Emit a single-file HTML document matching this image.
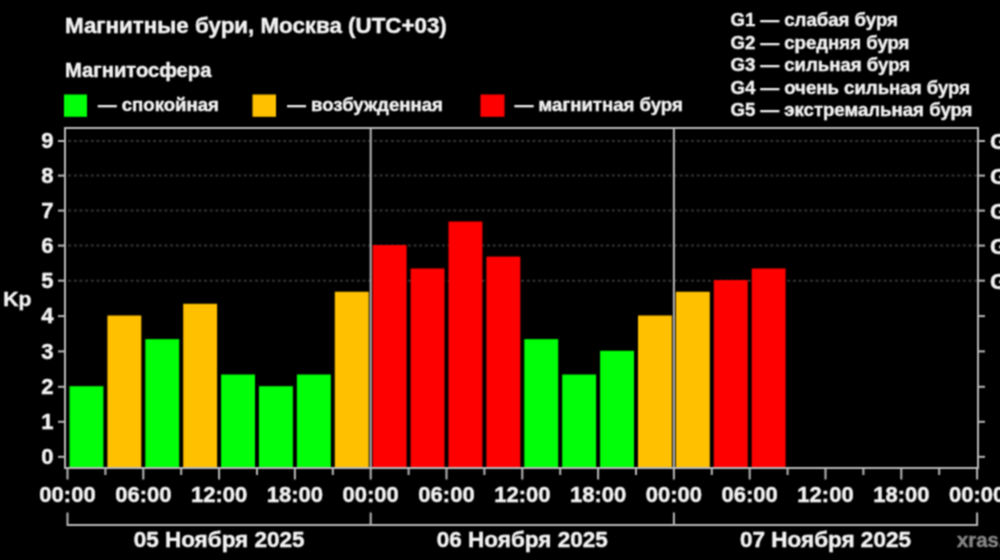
<!DOCTYPE html>
<html><head><meta charset="utf-8"><title>Магнитные бури</title>
<style>
html,body{margin:0;padding:0;background:#000;}
body{width:1000px;height:560px;overflow:hidden;}
svg{display:block;}
#wrap{width:1000px;height:560px;will-change:transform;}
text{font-family:"Liberation Sans",Arial,"DejaVu Sans",sans-serif;font-weight:bold;fill:#f2f2f2;stroke:#f2f2f2;stroke-width:0.45px;stroke-linejoin:round;}
.ax{font-size:22px;}
.t1{font-size:22.35px;}
.dt{font-size:22.5px;}
.axg{font-size:22.6px;}
.t2{font-size:20.2px;}
.lg{font-size:18.6px;}
.kp{font-size:21.1px;}
.wm{font-size:20.3px;fill:#858585;stroke:#858585;}
</style></head>
<body>
<div id="wrap"><svg width="1000" height="560" viewBox="0 0 1000 560">
<defs><filter id="soft" filterUnits="userSpaceOnUse" x="0" y="0" width="1000" height="560" color-interpolation-filters="sRGB"><feConvolveMatrix order="3" kernelMatrix="1 2 1 2 4 2 1 2 1" divisor="16" edgeMode="none"/></filter></defs>
<g filter="url(#soft)">
<rect width="1000" height="560" fill="#000"/>
<line x1="68.22" y1="280.65" x2="977" y2="280.65" stroke="#363636" stroke-width="2" stroke-dasharray="2.8 2.8626"/>
<line x1="68.22" y1="245.60" x2="977" y2="245.60" stroke="#363636" stroke-width="2" stroke-dasharray="2.8 2.8626"/>
<line x1="68.22" y1="210.60" x2="977" y2="210.60" stroke="#363636" stroke-width="2" stroke-dasharray="2.8 2.8626"/>
<line x1="68.22" y1="175.60" x2="977" y2="175.60" stroke="#363636" stroke-width="2" stroke-dasharray="2.8 2.8626"/>
<line x1="68.22" y1="141.00" x2="977" y2="141.00" stroke="#363636" stroke-width="2" stroke-dasharray="2.8 2.8626"/>
<rect x="69.50" y="386.20" width="33.90" height="81.80" fill="#00ff08"/>
<rect x="107.40" y="315.50" width="33.90" height="152.50" fill="#ffc000"/>
<rect x="145.30" y="339.15" width="33.90" height="128.85" fill="#00ff08"/>
<rect x="183.20" y="303.80" width="33.90" height="164.20" fill="#ffc000"/>
<rect x="221.10" y="374.52" width="33.90" height="93.48" fill="#00ff08"/>
<rect x="259.00" y="386.20" width="33.90" height="81.80" fill="#00ff08"/>
<rect x="296.90" y="374.52" width="33.90" height="93.48" fill="#00ff08"/>
<rect x="334.80" y="291.75" width="33.90" height="176.25" fill="#ffc000"/>
<rect x="372.70" y="245.00" width="33.90" height="223.00" fill="#ff0000"/>
<rect x="410.60" y="268.48" width="33.90" height="199.52" fill="#ff0000"/>
<rect x="448.50" y="221.55" width="33.90" height="246.45" fill="#ff0000"/>
<rect x="486.40" y="256.57" width="33.90" height="211.43" fill="#ff0000"/>
<rect x="524.30" y="339.15" width="33.90" height="128.85" fill="#00ff08"/>
<rect x="562.20" y="374.52" width="33.90" height="93.48" fill="#00ff08"/>
<rect x="600.10" y="350.80" width="33.90" height="117.20" fill="#00ff08"/>
<rect x="638.00" y="315.50" width="33.90" height="152.50" fill="#ffc000"/>
<rect x="675.90" y="291.75" width="33.90" height="176.25" fill="#ffc000"/>
<rect x="713.80" y="280.05" width="33.90" height="187.95" fill="#ff0000"/>
<rect x="751.70" y="268.48" width="33.90" height="199.52" fill="#ff0000"/>
<line x1="370.70" y1="128" x2="370.70" y2="468" stroke="#b8b8b8" stroke-width="2"/>
<line x1="673.90" y1="128" x2="673.90" y2="468" stroke="#b8b8b8" stroke-width="2"/>
<path d="M65 468 V128 H978 V468 Z" fill="none" stroke="#b8b8b8" stroke-width="2"/>
<line x1="58" y1="456.85" x2="65" y2="456.85" stroke="#b8b8b8" stroke-width="2"/>
<line x1="978" y1="456.85" x2="985" y2="456.85" stroke="#b8b8b8" stroke-width="2"/>
<text x="53.5" y="464.05" text-anchor="end" class="ax">0</text>
<line x1="58" y1="421.80" x2="65" y2="421.80" stroke="#b8b8b8" stroke-width="2"/>
<line x1="978" y1="421.80" x2="985" y2="421.80" stroke="#b8b8b8" stroke-width="2"/>
<text x="53.5" y="429.00" text-anchor="end" class="ax">1</text>
<line x1="58" y1="386.80" x2="65" y2="386.80" stroke="#b8b8b8" stroke-width="2"/>
<line x1="978" y1="386.80" x2="985" y2="386.80" stroke="#b8b8b8" stroke-width="2"/>
<text x="53.5" y="394.00" text-anchor="end" class="ax">2</text>
<line x1="58" y1="351.40" x2="65" y2="351.40" stroke="#b8b8b8" stroke-width="2"/>
<line x1="978" y1="351.40" x2="985" y2="351.40" stroke="#b8b8b8" stroke-width="2"/>
<text x="53.5" y="358.60" text-anchor="end" class="ax">3</text>
<line x1="58" y1="316.10" x2="65" y2="316.10" stroke="#b8b8b8" stroke-width="2"/>
<line x1="978" y1="316.10" x2="985" y2="316.10" stroke="#b8b8b8" stroke-width="2"/>
<text x="53.5" y="323.30" text-anchor="end" class="ax">4</text>
<line x1="58" y1="280.65" x2="65" y2="280.65" stroke="#b8b8b8" stroke-width="2"/>
<line x1="978" y1="280.65" x2="985" y2="280.65" stroke="#b8b8b8" stroke-width="2"/>
<text x="53.5" y="287.85" text-anchor="end" class="ax">5</text>
<line x1="58" y1="245.60" x2="65" y2="245.60" stroke="#b8b8b8" stroke-width="2"/>
<line x1="978" y1="245.60" x2="985" y2="245.60" stroke="#b8b8b8" stroke-width="2"/>
<text x="53.5" y="252.80" text-anchor="end" class="ax">6</text>
<line x1="58" y1="210.60" x2="65" y2="210.60" stroke="#b8b8b8" stroke-width="2"/>
<line x1="978" y1="210.60" x2="985" y2="210.60" stroke="#b8b8b8" stroke-width="2"/>
<text x="53.5" y="217.80" text-anchor="end" class="ax">7</text>
<line x1="58" y1="175.60" x2="65" y2="175.60" stroke="#b8b8b8" stroke-width="2"/>
<line x1="978" y1="175.60" x2="985" y2="175.60" stroke="#b8b8b8" stroke-width="2"/>
<text x="53.5" y="182.80" text-anchor="end" class="ax">8</text>
<line x1="58" y1="141.00" x2="65" y2="141.00" stroke="#b8b8b8" stroke-width="2"/>
<line x1="978" y1="141.00" x2="985" y2="141.00" stroke="#b8b8b8" stroke-width="2"/>
<text x="53.5" y="148.20" text-anchor="end" class="ax">9</text>
<text x="990" y="288.65" class="axg">G1</text>
<text x="990" y="253.60" class="axg">G2</text>
<text x="990" y="218.60" class="axg">G3</text>
<text x="990" y="183.60" class="axg">G4</text>
<text x="990" y="149.00" class="axg">G5</text>
<line x1="67.50" y1="468" x2="67.50" y2="479.5" stroke="#b8b8b8" stroke-width="2"/>
<line x1="105.40" y1="468" x2="105.40" y2="475" stroke="#b8b8b8" stroke-width="2"/>
<line x1="143.30" y1="468" x2="143.30" y2="479.5" stroke="#b8b8b8" stroke-width="2"/>
<line x1="181.20" y1="468" x2="181.20" y2="475" stroke="#b8b8b8" stroke-width="2"/>
<line x1="219.10" y1="468" x2="219.10" y2="479.5" stroke="#b8b8b8" stroke-width="2"/>
<line x1="257.00" y1="468" x2="257.00" y2="475" stroke="#b8b8b8" stroke-width="2"/>
<line x1="294.90" y1="468" x2="294.90" y2="479.5" stroke="#b8b8b8" stroke-width="2"/>
<line x1="332.80" y1="468" x2="332.80" y2="475" stroke="#b8b8b8" stroke-width="2"/>
<line x1="370.70" y1="468" x2="370.70" y2="479.5" stroke="#b8b8b8" stroke-width="2"/>
<line x1="408.60" y1="468" x2="408.60" y2="475" stroke="#b8b8b8" stroke-width="2"/>
<line x1="446.50" y1="468" x2="446.50" y2="479.5" stroke="#b8b8b8" stroke-width="2"/>
<line x1="484.40" y1="468" x2="484.40" y2="475" stroke="#b8b8b8" stroke-width="2"/>
<line x1="522.30" y1="468" x2="522.30" y2="479.5" stroke="#b8b8b8" stroke-width="2"/>
<line x1="560.20" y1="468" x2="560.20" y2="475" stroke="#b8b8b8" stroke-width="2"/>
<line x1="598.10" y1="468" x2="598.10" y2="479.5" stroke="#b8b8b8" stroke-width="2"/>
<line x1="636.00" y1="468" x2="636.00" y2="475" stroke="#b8b8b8" stroke-width="2"/>
<line x1="673.90" y1="468" x2="673.90" y2="479.5" stroke="#b8b8b8" stroke-width="2"/>
<line x1="711.80" y1="468" x2="711.80" y2="475" stroke="#b8b8b8" stroke-width="2"/>
<line x1="749.70" y1="468" x2="749.70" y2="479.5" stroke="#b8b8b8" stroke-width="2"/>
<line x1="787.60" y1="468" x2="787.60" y2="475" stroke="#b8b8b8" stroke-width="2"/>
<line x1="825.50" y1="468" x2="825.50" y2="479.5" stroke="#b8b8b8" stroke-width="2"/>
<line x1="863.40" y1="468" x2="863.40" y2="475" stroke="#b8b8b8" stroke-width="2"/>
<line x1="901.30" y1="468" x2="901.30" y2="479.5" stroke="#b8b8b8" stroke-width="2"/>
<line x1="939.20" y1="468" x2="939.20" y2="475" stroke="#b8b8b8" stroke-width="2"/>
<line x1="977.10" y1="468" x2="977.10" y2="479.5" stroke="#b8b8b8" stroke-width="2"/>
<text x="67.50" y="502" text-anchor="middle" class="ax">00:00</text>
<text x="143.30" y="502" text-anchor="middle" class="ax">06:00</text>
<text x="219.10" y="502" text-anchor="middle" class="ax">12:00</text>
<text x="294.90" y="502" text-anchor="middle" class="ax">18:00</text>
<text x="370.70" y="502" text-anchor="middle" class="ax">00:00</text>
<text x="446.50" y="502" text-anchor="middle" class="ax">06:00</text>
<text x="522.30" y="502" text-anchor="middle" class="ax">12:00</text>
<text x="598.10" y="502" text-anchor="middle" class="ax">18:00</text>
<text x="673.90" y="502" text-anchor="middle" class="ax">00:00</text>
<text x="749.70" y="502" text-anchor="middle" class="ax">06:00</text>
<text x="825.50" y="502" text-anchor="middle" class="ax">12:00</text>
<text x="901.30" y="502" text-anchor="middle" class="ax">18:00</text>
<text x="977.10" y="502" text-anchor="middle" class="ax">00:00</text>
<path d="M67.50 512.5 V525 H977.10 V512.5" fill="none" stroke="#b8b8b8" stroke-width="2"/>
<line x1="370.70" y1="512.5" x2="370.70" y2="525" stroke="#b8b8b8" stroke-width="2"/>
<line x1="673.90" y1="512.5" x2="673.90" y2="525" stroke="#b8b8b8" stroke-width="2"/>
<text x="219.10" y="546.5" text-anchor="middle" class="dt">05 Ноября 2025</text>
<text x="522.30" y="546.5" text-anchor="middle" class="dt">06 Ноября 2025</text>
<text x="825.50" y="546.5" text-anchor="middle" class="dt">07 Ноября 2025</text>
<text x="957" y="547" class="wm">xras.ru</text>
<text x="65" y="32.9" class="t1">Магнитные бури, Москва (UTC+03)</text>
<text x="65" y="76.5" class="t2">Магнитосфера</text>
<rect x="64" y="94.5" width="23" height="22.3" fill="#00ff08"/>
<rect x="252.5" y="94.5" width="23.5" height="22.3" fill="#ffc000"/>
<rect x="480.5" y="94.5" width="24" height="22.3" fill="#ff0000"/>
<text x="98" y="110.6" class="lg">— спокойная</text>
<text x="287.3" y="110.6" class="lg">— возбужденная</text>
<text x="514.8" y="110.6" class="lg">— магнитная буря</text>
<text x="730.5" y="26.40" class="lg">G1 — слабая буря</text>
<text x="730.5" y="48.80" class="lg">G2 — средняя буря</text>
<text x="730.5" y="71.20" class="lg">G3 — сильная буря</text>
<text x="730.5" y="93.60" class="lg">G4 — очень сильная буря</text>
<text x="730.5" y="116.00" class="lg">G5 — экстремальная буря</text>
<text x="3.3" y="305.9" class="kp">Kp</text>
</g>
</svg></div>
</body></html>
